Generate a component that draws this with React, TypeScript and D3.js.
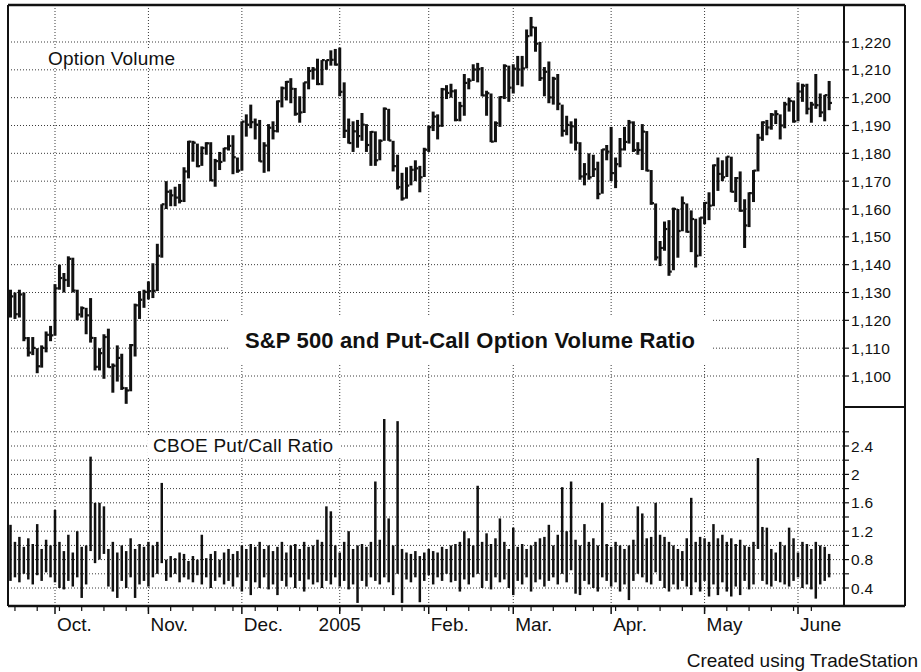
import React from 'react';
import * as d3 from 'd3';

// S&P 500 daily bars (Sept 17, 2004 – June 10, 2005)
const closes = [
  1128.6, 1122.2, 1129.3, 1113.6, 1108.4, 1110.1, 1103.5, 1110.1, 1114.8, 1114.6,
  1131.5, 1135.2, 1134.5, 1142.1, 1130.7, 1122.1, 1124.4, 1121.8, 1113.7, 1103.3,
  1108.2, 1114.0, 1103.2, 1103.7, 1106.5, 1095.7, 1094.8, 1111.1, 1125.4, 1127.4,
  1130.2, 1130.5, 1130.6, 1143.2, 1161.7, 1166.2, 1164.9, 1164.1, 1162.9, 1173.5,
  1184.2, 1183.8, 1175.4, 1181.9, 1183.6, 1170.3, 1177.2, 1176.9, 1181.8, 1182.7,
  1178.6, 1173.8, 1191.4, 1190.3, 1191.2, 1190.3, 1177.1, 1182.8, 1189.2, 1188.0,
  1198.7, 1203.4, 1205.7, 1203.2, 1194.2, 1194.7, 1205.5, 1209.6, 1210.1, 1204.9,
  1213.5, 1213.5, 1213.6, 1211.9, 1202.1, 1188.1, 1183.7, 1187.9, 1186.2, 1190.3,
  1183.0, 1187.7, 1177.5, 1184.5, 1196.0, 1184.6, 1175.4, 1167.9, 1163.8, 1168.4,
  1174.1, 1174.6, 1171.4, 1181.3, 1189.4, 1193.2, 1189.9, 1203.0, 1201.7, 1202.3,
  1192.0, 1197.0, 1205.3, 1206.1, 1210.1, 1210.3, 1200.8, 1201.6, 1184.2, 1190.8,
  1200.2, 1211.4, 1203.6, 1210.4, 1210.1, 1210.5, 1222.1, 1225.3, 1219.4, 1207.0,
  1209.3, 1200.1, 1206.8, 1197.8, 1188.1, 1190.2, 1189.7, 1183.8, 1171.7, 1172.5,
  1171.4, 1174.3, 1165.4, 1181.4, 1180.6, 1172.9, 1176.1, 1181.4, 1184.1, 1191.1,
  1181.2, 1181.2, 1187.8, 1173.8, 1162.1, 1142.6, 1146.0, 1152.8, 1137.5, 1160.0,
  1152.1, 1162.1, 1151.8, 1156.4, 1143.2, 1156.9, 1162.2, 1161.2, 1175.7, 1172.6,
  1171.4, 1178.8, 1166.2, 1171.1, 1159.4, 1154.1, 1165.7, 1173.8, 1185.6, 1191.1,
  1189.3, 1193.9, 1194.1, 1190.0, 1197.6, 1198.8, 1191.5, 1202.2, 1204.3, 1196.0,
  1197.5, 1197.3, 1194.7, 1200.9, 1198.1,
];
const highs = [
  1131, 1130, 1131, 1130, 1114, 1114, 1110, 1111, 1116, 1118,
  1133, 1140, 1137, 1143, 1142.5, 1131, 1125, 1124.5, 1128, 1114,
  1110, 1115, 1117, 1104.5, 1111, 1108, 1096, 1111.5, 1126, 1130.5,
  1131, 1134, 1140.5, 1147.5, 1161.7, 1170, 1167, 1168, 1169, 1175,
  1184.5, 1184.5, 1183.5, 1182.5, 1184, 1184, 1178, 1180.5, 1182, 1186.5,
  1186.5, 1178.5, 1191.5, 1194, 1197.5, 1192.5, 1192, 1184, 1190.5, 1191.5,
  1199, 1204, 1206, 1207, 1203.5, 1200.5, 1205.5, 1211, 1211, 1214,
  1213.5, 1213.5, 1217, 1217.5, 1218, 1205.5, 1192.5, 1191.5, 1192, 1194.5,
  1190.5, 1188, 1187.9, 1185, 1196.5, 1196, 1184.5, 1179.5, 1173, 1175,
  1175.5, 1177.5, 1175.5, 1182, 1190, 1195, 1194, 1203.5, 1204.5, 1205,
  1203, 1198.5, 1208.5, 1207, 1212, 1212.5, 1211, 1202.5, 1201.5, 1191.5,
  1200.5, 1212, 1211.5, 1212, 1215, 1215, 1224.5, 1229, 1225.5, 1220,
  1211, 1213, 1207.5, 1208.5, 1197.5, 1193.5, 1191.5, 1192.5, 1184, 1176.5,
  1180, 1179.5, 1177, 1181.5, 1183, 1189.5, 1178.5, 1185.5, 1189.5, 1192,
  1191.5, 1184, 1190.5, 1188, 1174, 1162, 1148.5, 1155.5, 1156, 1160.5,
  1160, 1164.5, 1162, 1159.5, 1156.5, 1157, 1162.5, 1166, 1176, 1178.5,
  1177.5, 1178.9, 1178.8, 1171.5, 1173.5, 1163.5, 1166, 1174, 1187, 1191.5,
  1192, 1194.5, 1195.5, 1194, 1198.5, 1200, 1199, 1205.5, 1205, 1205,
  1198.5, 1208.5, 1201.5, 1201, 1206,
];
const lows = [
  1121, 1120.5, 1121, 1112.5, 1107, 1107.5, 1101, 1103, 1108.5, 1112.5,
  1114.5, 1131, 1130, 1132, 1130, 1120, 1121, 1115, 1112, 1102,
  1102, 1099, 1103, 1094, 1098, 1095, 1090, 1094.5, 1107, 1120.5,
  1124.5, 1127.5, 1128, 1130.5, 1142.5, 1160, 1161, 1161, 1162, 1162.5,
  1171, 1177, 1175, 1175.5, 1179.5, 1170, 1168, 1174, 1177, 1181,
  1172.5, 1173, 1173.8, 1186, 1189, 1185, 1177, 1173, 1173.5, 1185,
  1187.5, 1196.5, 1199, 1198, 1193.5, 1191, 1194.5, 1203, 1206.5, 1204.5,
  1204.5, 1210, 1211.5, 1211.5, 1200.5, 1185.5, 1183.5, 1180.5, 1182, 1184.5,
  1180.5, 1175.5, 1175.5, 1177.5, 1184.5, 1184.5, 1173.5, 1167, 1163, 1163.7,
  1168.5, 1170, 1166, 1171.5, 1180.5, 1188, 1185, 1189.5, 1199.5, 1200,
  1191.5, 1191.5, 1193.5, 1203, 1206, 1205.5, 1200.5, 1193.5, 1184, 1184,
  1189.5, 1199.5, 1198.5, 1201.5, 1204.5, 1204, 1210.5, 1222, 1216.5, 1206,
  1200.5, 1198, 1197.5, 1195.5, 1186, 1186.5, 1183.5, 1181, 1170.5, 1168.5,
  1170.5, 1171.5, 1163.5, 1165.5, 1177.5, 1170, 1167.5, 1175, 1181, 1183.5,
  1180.5, 1179.5, 1174, 1173.5, 1161.5, 1141.5, 1139.5, 1145, 1136, 1138,
  1142.5, 1152, 1151.5, 1144.5, 1139, 1143, 1154.5, 1156, 1161, 1166.5,
  1170, 1171.5, 1166, 1162.5, 1159, 1146, 1153.5, 1162.5, 1173.5, 1184.5,
  1186.5, 1188.5, 1190.5, 1185, 1189, 1195, 1191, 1191.5, 1198.5, 1194,
  1191, 1196, 1193, 1191.5, 1195.5,
];

// CBOE put/call ratio daily ranges
const ratioHigh = [
  1.29, 1.05, 1.12, 0.98, 1.1, 1.02, 1.3, 0.95, 1.08, 1.0,
  1.5, 1.05, 0.92, 1.15, 0.9, 1.2, 0.98, 1.0, 2.25, 1.6,
  1.6, 1.55, 0.95, 1.05, 0.9, 1.0, 0.92, 1.1, 0.95, 1.02,
  0.98, 1.05, 1.0, 1.05, 1.88, 0.8, 0.85, 0.82, 0.9, 0.88,
  0.78, 0.85, 0.8, 1.15, 0.82, 0.88, 0.92, 0.8, 0.9, 0.95,
  0.88, 0.92, 1.0, 0.95, 1.02, 0.98, 1.05, 0.95, 1.0, 0.92,
  0.98, 1.05, 0.9, 1.0, 1.02, 0.95, 1.05, 0.98, 1.0, 1.08,
  1.05, 1.55, 1.48, 1.0, 0.9, 1.05, 1.2, 0.95, 1.0, 1.02,
  0.98, 1.05, 1.9, 1.08, 2.78, 1.38, 1.0, 2.75, 0.95, 0.9,
  0.88, 0.92, 0.85, 0.9, 0.95, 0.92, 0.9, 0.98, 0.95, 1.0,
  1.02, 1.05, 1.2, 1.1, 1.0, 1.84, 1.05, 1.17, 1.02, 1.1,
  1.38, 1.05, 0.95, 1.25, 0.98, 1.02, 0.95, 1.0, 1.05, 1.1,
  1.12, 1.29, 1.0, 1.15, 1.82, 1.2, 1.9, 1.08, 1.0, 1.3,
  1.05, 1.1, 1.0, 1.6, 1.02, 0.98, 1.05, 1.0, 0.95, 1.0,
  1.08, 1.55, 1.45, 1.1, 1.12, 1.6, 1.15, 1.12, 1.05, 1.0,
  0.95, 0.92, 1.1, 1.67, 1.05, 1.12, 1.1, 1.05, 1.3, 1.1,
  1.15, 1.05, 1.1, 1.02, 1.08, 1.0, 0.98, 1.05, 2.23, 1.26,
  1.25, 0.95, 0.9, 1.05, 1.0, 1.25, 1.1, 0.9, 1.05, 1.02,
  0.95, 1.05, 1.0, 0.98, 0.88,
];
const ratioLow = [
  0.5, 0.55, 0.48, 0.6, 0.52, 0.45, 0.58, 0.5, 0.62, 0.55,
  0.48, 0.4, 0.38, 0.5, 0.42, 0.55, 0.26, 0.45, 0.92, 0.75,
  0.8, 0.88, 0.42, 0.35, 0.26, 0.5, 0.4, 0.55, 0.26, 0.45,
  0.5, 0.42, 0.55, 0.6, 0.75, 0.5, 0.55, 0.6, 0.48, 0.55,
  0.52, 0.48, 0.58, 0.45, 0.55, 0.4, 0.5, 0.55, 0.45, 0.5,
  0.42, 0.55, 0.35, 0.5, 0.3, 0.48, 0.4, 0.55, 0.38, 0.45,
  0.3, 0.5, 0.42, 0.55, 0.4, 0.5, 0.35, 0.52, 0.45, 0.48,
  0.4, 0.5, 0.45, 0.55, 0.42, 0.5, 0.38, 0.45, 0.19, 0.5,
  0.42, 0.55, 0.5, 0.45, 0.55, 0.48, 0.3, 0.6, 0.19, 0.52,
  0.48, 0.55, 0.2, 0.5, 0.58, 0.45, 0.55, 0.5, 0.6, 0.48,
  0.5, 0.35, 0.52, 0.45, 0.55, 0.6, 0.4, 0.5, 0.38, 0.55,
  0.48, 0.52, 0.4, 0.3, 0.5, 0.45, 0.55, 0.35, 0.48, 0.52,
  0.42, 0.5, 0.55, 0.45, 0.6, 0.48, 0.65, 0.32, 0.3, 0.5,
  0.45, 0.4, 0.35, 0.55, 0.5, 0.42, 0.48, 0.35, 0.45, 0.23,
  0.5, 0.6, 0.55, 0.48, 0.45, 0.62, 0.5, 0.4, 0.35, 0.45,
  0.38, 0.5, 0.42, 0.3, 0.48, 0.35, 0.5, 0.28, 0.45, 0.3,
  0.48, 0.35, 0.28, 0.42, 0.3, 0.5, 0.38, 0.45, 0.95, 0.5,
  0.45, 0.42, 0.5, 0.48, 0.45, 0.42, 0.5, 0.55, 0.4, 0.45,
  0.38, 0.25, 0.45, 0.5, 0.55,
];

const priceTicks = [1100, 1110, 1120, 1130, 1140, 1150, 1160, 1170, 1180, 1190, 1200, 1210, 1220];
const ratioTicks = [0.4, 0.6, 0.8, 1.0, 1.2, 1.4, 1.6, 1.8, 2.0, 2.2, 2.4, 2.6];
const ratioLabels = [0.4, 0.8, 1.2, 1.6, 2.0, 2.4];
const monthLabels = ['Oct.', 'Nov.', 'Dec.', '2005', 'Feb.', 'Mar.', 'Apr.', 'May', 'June'];
const holidays = ['2004-11-25', '2004-12-24', '2005-01-17', '2005-02-21', '2005-03-25', '2005-05-30'];
const startDate = '2004-09-17';
const endDate = '2005-06-10';

function tradingDays(): Date[] {
  const out: Date[] = [];
  const d = new Date(startDate + 'T00:00:00Z');
  const end = new Date(endDate + 'T00:00:00Z').getTime();
  while (d.getTime() <= end) {
    const wd = d.getUTCDay();
    const iso = d.toISOString().slice(0, 10);
    if (wd !== 0 && wd !== 6 && !holidays.includes(iso)) out.push(new Date(d.getTime()));
    d.setUTCDate(d.getUTCDate() + 1);
  }
  return out;
}

const FONT = "'Liberation Sans', Arial, Helvetica, sans-serif";
const GRID = { stroke: '#3a3a3a', strokeWidth: 1, strokeDasharray: '1 2' };

export default function App() {
  const days = tradingDays();
  const n = closes.length;
  const x = d3.scaleLinear().domain([10, 177]).range([55, 798]);
  const yP = d3.scaleLinear().domain([1100, 1220]).range([376, 42]);
  const yR = d3.scaleLinear().domain([0.4, 2.4]).range([588, 446]);

  const monthStarts: number[] = [];
  const weekStarts: number[] = [];
  days.forEach((d, i) => {
    if (i === 0) return;
    const p = days[i - 1];
    if (d.getUTCMonth() !== p.getUTCMonth()) monthStarts.push(i);
    if (d.getUTCDay() < p.getUTCDay()) weekStarts.push(i);
  });

  const left = 8, top = 5, axisX = 844, rightX = 905, bottom = 606, split = 407;
  const idx = d3.range(n);

  return (
    <svg width={921} height={672} style={{ position: 'absolute', left: 0, top: 0, background: '#fff' }}
      fontFamily={FONT}>
      <rect x={0} y={0} width={921} height={672} fill="#fff" />
      {/* horizontal grid */}
      {priceTicks.map(t => (
        <line key={'pg' + t} x1={left} x2={axisX} y1={yP(t)} y2={yP(t)} {...GRID} />
      ))}
      {ratioTicks.map(t => (
        <line key={'rg' + t} x1={left} x2={axisX} y1={yR(t)} y2={yR(t)} {...GRID} />
      ))}
      {/* vertical month grid */}
      {monthStarts.map(i => (
        <line key={'vg' + i} x1={x(i)} x2={x(i)} y1={top} y2={bottom} {...GRID} />
      ))}

      {/* label boxes */}
      <rect x={46} y={48} width={134} height={20} fill="#fff" />
      <rect x={228} y={316} width={484} height={47} fill="#fff" />
      <rect x={148} y={436} width={193} height={20} fill="#fff" />

      {/* price bars */}
      <g stroke="#111" strokeLinecap="butt">
        {idx.map(i => (
          <g key={'b' + i}>
            <line x1={x(i)} x2={x(i)} y1={yP(highs[i])} y2={yP(lows[i])} strokeWidth={3} />
            <line x1={x(i)} x2={x(i) + 2.8} y1={yP(closes[i])} y2={yP(closes[i])} strokeWidth={2.2} />
          </g>
        ))}
      </g>
      {/* ratio bars */}
      <g stroke="#111">
        {idx.map(i => (
          <line key={'r' + i} x1={x(i)} x2={x(i)} y1={yR(ratioHigh[i])} y2={yR(ratioLow[i])} strokeWidth={2.5} />
        ))}
      </g>

      {/* texts */}
      <text x={48} y={64.5} fontSize={19} textLength={127} fill="#111">Option Volume</text>
      <text x={245} y={348} fontSize={22} fontWeight="bold" textLength={450} fill="#111">S&amp;P 500 and Put-Call Option Volume Ratio</text>
      <text x={153} y={452} fontSize={19} textLength={180} fill="#111">CBOE Put/Call Ratio</text>

      {/* frame */}
      <line x1={left} x2={rightX} y1={top} y2={top} stroke="#111" strokeWidth={2.5} />
      <line x1={left} x2={left} y1={top} y2={bottom} stroke="#111" strokeWidth={2} />
      <line x1={left} x2={rightX} y1={bottom} y2={bottom} stroke="#111" strokeWidth={2.5} />
      <line x1={axisX} x2={axisX} y1={top} y2={bottom} stroke="#111" strokeWidth={2} />
      <line x1={rightX} x2={rightX} y1={top} y2={bottom} stroke="#111" strokeWidth={2} />
      <line x1={axisX} x2={rightX} y1={split} y2={split} stroke="#111" strokeWidth={2} />

      {/* right price axis */}
      {priceTicks.map(t => (
        <g key={'pt' + t}>
          <line x1={axisX} x2={axisX + 5} y1={yP(t)} y2={yP(t)} stroke="#111" strokeWidth={1.2} />
          <text x={851} y={yP(t) + 5.5} fontSize={15.5} fill="#111" letterSpacing={0.3}>{d3.format(',')(t)}</text>
        </g>
      ))}
      {/* right ratio axis */}
      {ratioTicks.map(t => (
        <line key={'rt' + t} x1={axisX} x2={axisX + 5} y1={yR(t)} y2={yR(t)} stroke="#111" strokeWidth={1.2} />
      ))}
      {ratioLabels.map(t => (
        <text key={'rl' + t} x={851} y={yR(t) + 5.5} fontSize={15.5} fill="#111" letterSpacing={0.3}>{d3.format('')(+t.toFixed(1))}</text>
      ))}

      {/* bottom axis ticks */}
      {weekStarts.map(i => (
        <line key={'wt' + i} x1={x(i)} x2={x(i)} y1={bottom} y2={bottom + 5} stroke="#111" strokeWidth={1.2} />
      ))}
      {monthStarts.map((i, k) => (
        <g key={'mt' + i}>
          <line x1={x(i)} x2={x(i)} y1={bottom} y2={bottom + 8} stroke="#111" strokeWidth={1.5} />
          <text x={monthLabels[k] === '2005' ? x(i) : x(i) + 2} y={631} fontSize={19} fill="#111"
            textAnchor={monthLabels[k] === '2005' ? 'middle' : 'start'}>{monthLabels[k]}</text>
        </g>
      ))}

      <text x={918} y={667} fontSize={19} textAnchor="end" fill="#111">Created using TradeStation</text>
    </svg>
  );
}
